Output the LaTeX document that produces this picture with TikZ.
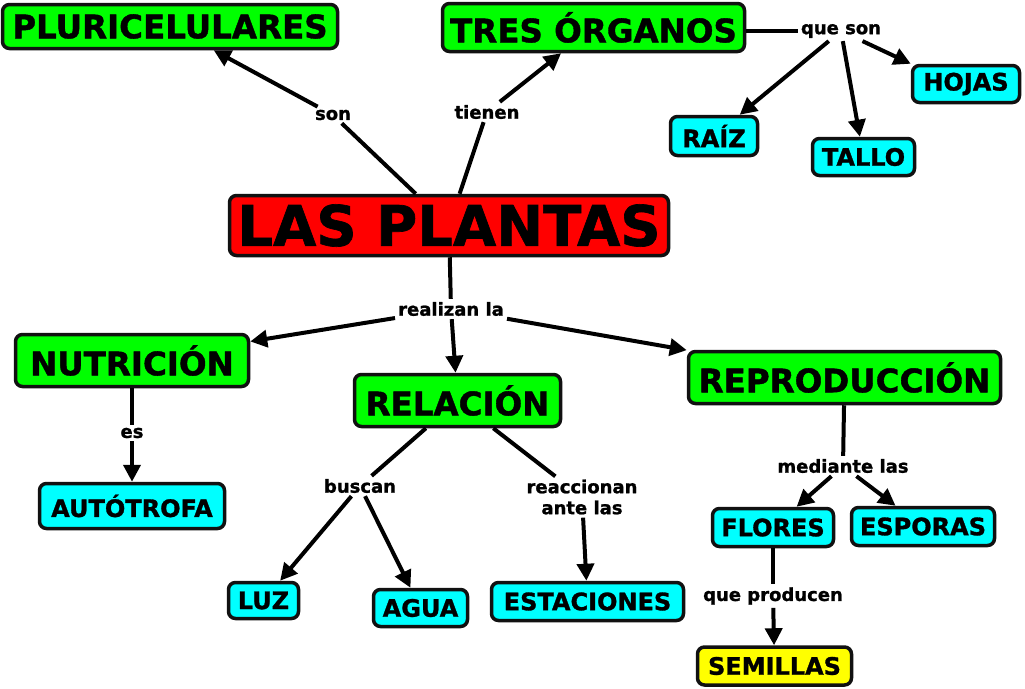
\documentclass[tikz,border=0pt]{standalone}
\usepackage{fontspec}
\setmainfont{DejaVu Sans}[BoldFeatures={FakeBold=1.2}]
\usetikzlibrary{arrows.meta}
\definecolor{cgreen}{HTML}{00FF00}
\definecolor{cred}{HTML}{FF0000}
\definecolor{ccyan}{HTML}{00FFFF}
\definecolor{cyellow}{HTML}{FFFF00}
\definecolor{cborder}{HTML}{111111}
\begin{document}
\begin{tikzpicture}[x=1pt,y=-1pt,
  box/.style={draw=cborder, line width=3.5pt, rounded corners=7pt, inner sep=0pt, align=center},
  big/.style={box, fill=cgreen, font=\bfseries\fontsize{32.5}{38}\selectfont},
  main/.style={box, fill=cred, font=\bfseries\fontsize{56}{60}\selectfont},
  small/.style={box, fill=ccyan, font=\bfseries\fontsize{24}{28}\selectfont},
  seed/.style={box, fill=cyellow, font=\bfseries\fontsize{24}{28}\selectfont},
  lab/.style={font=\bfseries\fontsize{18}{21}\selectfont, inner sep=3pt, align=center},
  conn/.style={draw=black, line width=4pt},
  arr/.style={conn, -{Triangle[length=17pt,width=17pt]}}
]
\useasboundingbox (0,0) rectangle (1025,688);
\fill[white] (0,0) rectangle (1025,688);

% concepts
\node[main, minimum width=439pt, minimum height=60pt] (plantas) at (449,225.5) {LAS PLANTAS};
\node[big, minimum width=335pt, minimum height=44pt] (pluri) at (170,26.5) {PLURICELULARES};
\node[big, minimum width=302pt, minimum height=48pt] (tres) at (593.5,27.5) {TRES ÓRGANOS};
\node[small, minimum width=107pt, minimum height=37pt] (hojas) at (966,84) {HOJAS};
\node[small, minimum width=87pt, minimum height=39pt] (raiz) at (714,136) {RAÍZ};
\node[small, minimum width=102pt, minimum height=37pt] (tallo) at (863.5,157) {TALLO};
\node[big, minimum width=233pt, minimum height=52pt] (nutri) at (132,360.5) {NUTRICIÓN};
\node[small, minimum width=185pt, minimum height=45pt] (auto) at (132,506) {AUTÓTROFA};
\node[big, minimum width=206pt, minimum height=52pt] (rela) at (457.5,400.5) {RELACIÓN};
\node[small, minimum width=70pt, minimum height=36pt] (luz) at (263.5,600.5) {LUZ};
\node[small, minimum width=94pt, minimum height=37pt] (agua) at (420.5,608) {AGUA};
\node[small, minimum width=192pt, minimum height=38pt] (esta) at (587.5,601.5) {ESTACIONES};
\node[big, minimum width=312pt, minimum height=52pt] (repro) at (844.5,377.5) {REPRODUCCIÓN};
\node[small, minimum width=121pt, minimum height=38pt] (flores) at (773,527.5) {FLORES};
\node[small, minimum width=143pt, minimum height=38pt] (esporas) at (923,526.5) {ESPORAS};
\node[seed, minimum width=154pt, minimum height=38pt] (semillas) at (774.5,666) {SEMILLAS};

% linking phrases
\node[lab] (son) at (333,115) {son};
\node[lab] (tienen) at (487,112) {tienen};
\node[lab] (queson) at (841,31) {que son};
\node[lab] (realizan) at (451,309) {realizan la};
\node[lab] (es) at (132,433) {es};
\node[lab] (buscan) at (360,486) {buscan};
\node[lab] (reacc) at (582,497) {reaccionan\\ante las};
\node[lab] (mediante) at (843,466) {mediante las};
\node[lab] (producen) at (773,596) {que producen};

% connectors
\draw[conn] (plantas) -- (son);
\draw[arr] (son) -- (pluri);
\draw[conn] (plantas) -- (tienen);
\draw[arr] (tienen) -- (tres);
\draw[conn] (tres.east |- queson) -- (queson);
\draw[arr] (queson) -- (raiz);
\draw[arr] (queson) -- (tallo);
\draw[arr] (queson) -- (hojas.north west);
\draw[conn] (plantas) -- (realizan);
\draw[arr] (realizan) -- (nutri);
\draw[arr] (realizan) -- (rela);
\draw[arr] (realizan) -- (repro);
\draw[conn] (nutri) -- (es);
\draw[arr] (es) -- (auto);
\draw[conn] (rela) -- (buscan);
\draw[arr] (buscan) -- (luz);
\draw[arr] (buscan) -- (agua);
\draw[conn] (rela) -- (reacc);
\draw[arr] (reacc) -- (esta);
\draw[conn] (repro) -- (mediante);
\draw[arr] (mediante) -- (flores);
\draw[arr] (mediante) -- (esporas);
\draw[conn] (flores) -- (producen);
\draw[arr] (producen) -- (semillas);
\end{tikzpicture}
\end{document}
